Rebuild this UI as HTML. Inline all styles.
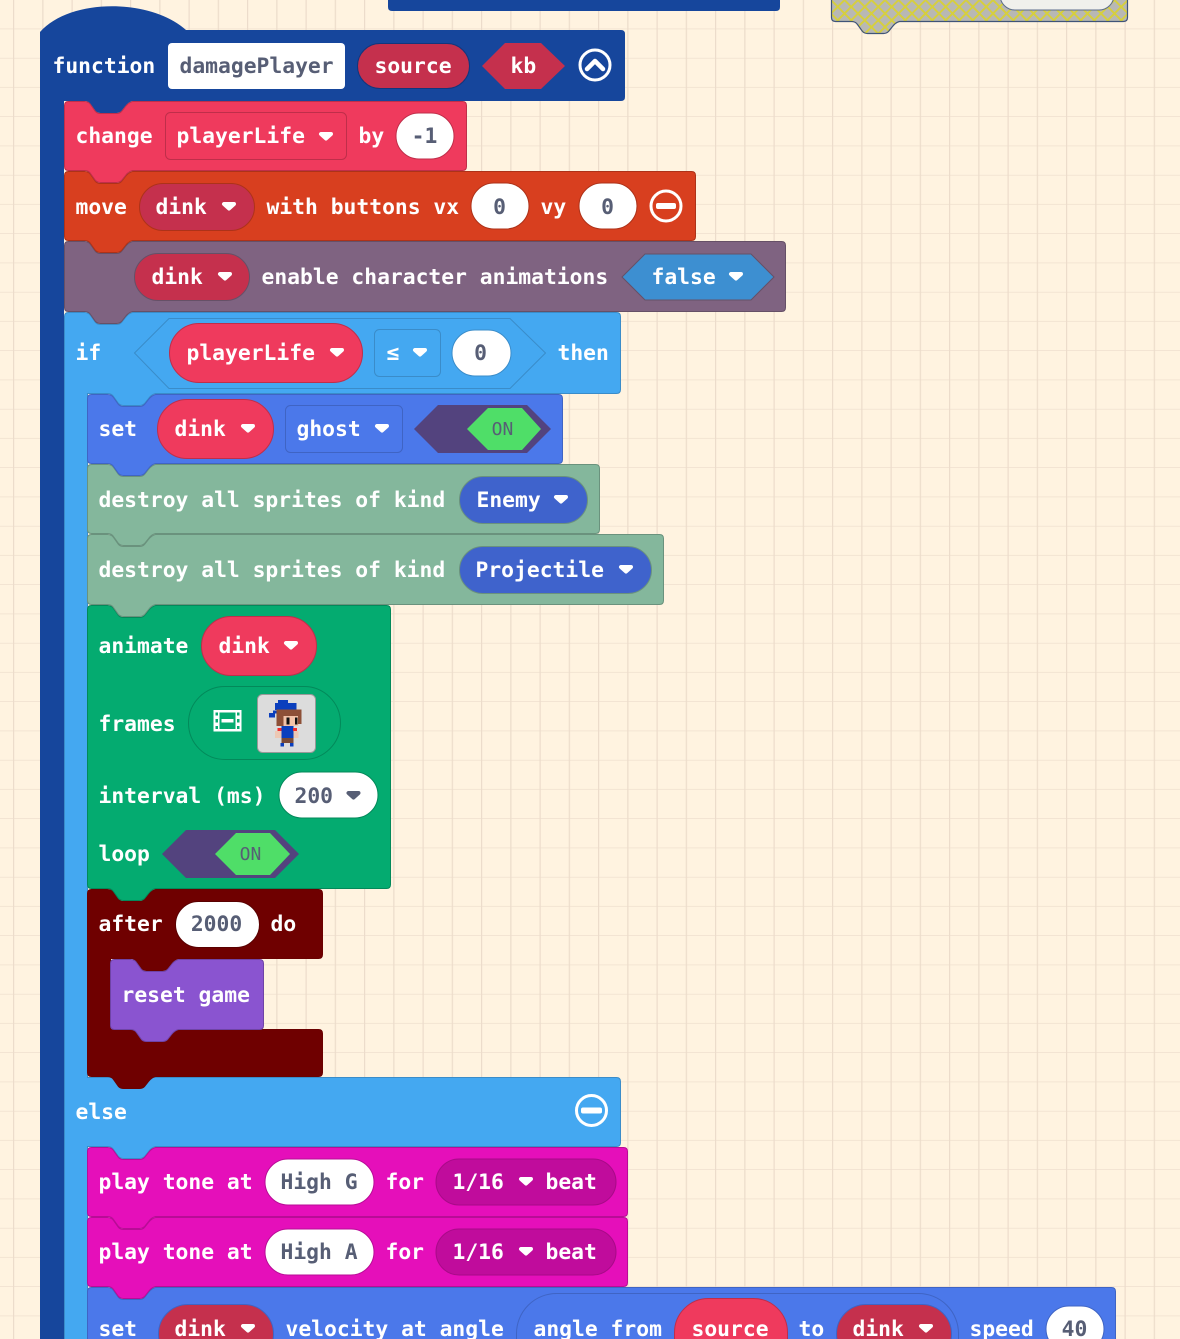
<!DOCTYPE html>
<html><head><meta charset="utf-8"><style>
html,body{margin:0;padding:0;background:#fff3e0}
svg{display:block}
text{font-family:"DejaVu Sans Mono","Liberation Mono",monospace;font-size:21.33px;font-weight:700;fill:#fff;white-space:pre;transform:translateX(-.5px)}
.g{fill:#575e75}
.o{font-size:18px;fill:#575e75;text-anchor:middle;font-weight:400}
.m{text-anchor:middle}
</style></head><body>
<svg width="1180" height="1339" viewBox="0 0 1180 1339" xmlns="http://www.w3.org/2000/svg">
<defs>
<pattern id="grid" width="29.25" height="29.25" patternUnits="userSpaceOnUse" x="13" y="0">
<path d="M.5,0V29.25M0,29.3H29.25" stroke="#ecdccb" stroke-width="1.4" fill="none"/>
</pattern>
<pattern id="hatch" width="13.5" height="13.5" patternUnits="userSpaceOnUse" x="831">
<rect width="13.5" height="13.5" fill="#b8b8b4"/>
<path d="M0,0L13.5,13.5M13.5,0L0,13.5" stroke="#d6cf3d" stroke-width="1.9"/>
</pattern>
<path id="t" d="M-5,-2H5L0,2.5Z" stroke-width="4" stroke-linejoin="round"/>
</defs>
<rect width="1180" height="1339" fill="#fff3e0"/>
<rect width="1180" height="1339" fill="url(#grid)"/>

<!-- top fragments -->
<path d="M388,-5H780V7Q780,11 776,11H392Q388,11 388,7Z" fill="#16469c"/>
<path d="M831.500,-5V17.500q0,4 4,4H851.500q4,0 6,3l5,7q2,2 5,2h16q3,0 5,-2l4,-5q3,-4 7,-5H1123.500q4,0 4,-4V-5Z" fill="url(#hatch)" stroke="#3f5478" stroke-width="1.2"/>
<rect x="1000" y="-30" width="114" height="40" rx="15" fill="#f0f0ec" stroke="#5b6c8c"/>

<!-- function -->
<path d="M40,32C70,-2 150,-2 186,30H621Q625,30 625,34V97Q625,101 621,101H132.500q-4,1 -7,5l-4,5q-2,2 -5,2h-16q-3,0 -5,-2l-5,-7q-2,-3 -6,-3H64V1345H40Z" fill="#16469c"/>

<!-- if / else C block -->
<path d="M64.500,316.500q0,-4 4,-4H84.500q4,0 6,3l5,7q2,2 5,2h16q3,0 5,-2l4,-5q3,-4 7,-5H616.500q4,0 4,4V389.500q0,4 -4,4H155.500q-4,1 -7,5l-4,5q-2,2 -5,2h-16q-3,0 -5,-2l-5,-7q-2,-3 -6,-3H87.500V1077.500H616.500q4,0 4,4V1142.500q0,4 -4,4H155.500q-4,1 -7,5l-4,5q-2,2 -5,2h-16q-3,0 -5,-2l-5,-7q-2,-3 -6,-3H87.500V1345H64.500Z" fill="#44a8f1" stroke="#3a8cc9" stroke-width="1"/>

<!-- set velocity -->
<path d="M87.500,1291.500q0,-4 4,-4H107.500q4,0 6,3l5,7q2,2 5,2h16q3,0 5,-2l4,-5q3,-4 7,-5H1111.500q4,0 4,4V1345H87.500Z" fill="#4b78ea" stroke="#3f64c4"/>
<!-- play 2 -->
<path d="M87.500,1221.500q0,-4 4,-4H107.500q4,0 6,3l5,7q2,2 5,2h16q3,0 5,-2l4,-5q3,-4 7,-5H623.500q4,0 4,4V1282.500q0,4 -4,4H155.500q-4,1 -7,5l-4,5q-2,2 -5,2h-16q-3,0 -5,-2l-5,-7q-2,-3 -6,-3H91.500q-4,0 -4,-4Z" fill="#e50fba" stroke="#b80c96"/>
<!-- play 1 -->
<path d="M87.500,1151.500q0,-4 4,-4H107.500q4,0 6,3l5,7q2,2 5,2h16q3,0 5,-2l4,-5q3,-4 7,-5H623.500q4,0 4,4V1212.500q0,4 -4,4H155.500q-4,1 -7,5l-4,5q-2,2 -5,2h-16q-3,0 -5,-2l-5,-7q-2,-3 -6,-3H91.500q-4,0 -4,-4Z" fill="#e50fba" stroke="#b80c96"/>
<!-- after -->
<path d="M87.500,893.500q0,-4 4,-4H107.500q4,0 6,3l5,7q2,2 5,2h16q3,0 5,-2l4,-5q3,-4 7,-5H318.500q4,0 4,4V954.500q0,4 -4,4H178.500q-4,1 -7,5l-4,5q-2,2 -5,2h-16q-3,0 -5,-2l-5,-7q-2,-3 -6,-3H110.500V1029.500H318.500q4,0 4,4V1072.500q0,4 -4,4H155.500q-4,1 -7,5l-4,5q-2,2 -5,2h-16q-3,0 -5,-2l-5,-7q-2,-3 -6,-3H91.500q-4,0 -4,-4Z" fill="#6f0000" stroke="#6a0000"/>
<!-- reset -->
<path d="M110.500,963.500q0,-4 4,-4H130.500q4,0 6,3l5,7q2,2 5,2h16q3,0 5,-2l4,-5q3,-4 7,-5H259.500q4,0 4,4V1025.500q0,4 -4,4H178.500q-4,1 -7,5l-4,5q-2,2 -5,2h-16q-3,0 -5,-2l-5,-7q-2,-3 -6,-3H114.500q-4,0 -4,-4Z" fill="#8a54d0" stroke="#6f43a6"/>
<!-- animate -->
<path d="M87.500,609.500q0,-4 4,-4H107.500q4,0 6,3l5,7q2,2 5,2h16q3,0 5,-2l4,-5q3,-4 7,-5H386.500q4,0 4,4V884.500q0,4 -4,4H155.500q-4,1 -7,5l-4,5q-2,2 -5,2h-16q-3,0 -5,-2l-5,-7q-2,-3 -6,-3H91.500q-4,0 -4,-4Z" fill="#04ab70" stroke="#03895a"/>
<!-- destroy 2 -->
<path d="M87.500,538.500q0,-4 4,-4H107.500q4,0 6,3l5,7q2,2 5,2h16q3,0 5,-2l4,-5q3,-4 7,-5H659.500q4,0 4,4V600.500q0,4 -4,4H155.500q-4,1 -7,5l-4,5q-2,2 -5,2h-16q-3,0 -5,-2l-5,-7q-2,-3 -6,-3H91.500q-4,0 -4,-4Z" fill="#84b79c" stroke="#6a927d"/>
<!-- destroy 1 -->
<path d="M87.500,468.500q0,-4 4,-4H107.500q4,0 6,3l5,7q2,2 5,2h16q3,0 5,-2l4,-5q3,-4 7,-5H595.500q4,0 4,4V529.500q0,4 -4,4H155.500q-4,1 -7,5l-4,5q-2,2 -5,2h-16q-3,0 -5,-2l-5,-7q-2,-3 -6,-3H91.500q-4,0 -4,-4Z" fill="#84b79c" stroke="#6a927d"/>
<!-- set ghost -->
<path d="M87.500,398.500q0,-4 4,-4H107.500q4,0 6,3l5,7q2,2 5,2h16q3,0 5,-2l4,-5q3,-4 7,-5H558.500q4,0 4,4V459.500q0,4 -4,4H155.500q-4,1 -7,5l-4,5q-2,2 -5,2h-16q-3,0 -5,-2l-5,-7q-2,-3 -6,-3H91.500q-4,0 -4,-4Z" fill="#4b78ea" stroke="#3f64c4"/>
<!-- animations -->
<path d="M64.500,245.500q0,-4 4,-4H84.500q4,0 6,3l5,7q2,2 5,2h16q3,0 5,-2l4,-5q3,-4 7,-5H781.500q4,0 4,4V307.500q0,4 -4,4H132.500q-4,1 -7,5l-4,5q-2,2 -5,2h-16q-3,0 -5,-2l-5,-7q-2,-3 -6,-3H68.500q-4,0 -4,-4Z" fill="#7f6381" stroke="#665067"/>
<!-- move -->
<path d="M64.500,175.500q0,-4 4,-4H84.500q4,0 6,3l5,7q2,2 5,2h16q3,0 5,-2l4,-5q3,-4 7,-5H691.500q4,0 4,4V236.500q0,4 -4,4H132.500q-4,1 -7,5l-4,5q-2,2 -5,2h-16q-3,0 -5,-2l-5,-7q-2,-3 -6,-3H68.500q-4,0 -4,-4Z" fill="#d83f1f" stroke="#ad3219"/>
<!-- change -->
<path d="M64.500,105.500q0,-4 4,-4H84.500q4,0 6,3l5,7q2,2 5,2h16q3,0 5,-2l4,-5q3,-4 7,-5H462.500q4,0 4,4V166.500q0,4 -4,4H132.500q-4,1 -7,5l-4,5q-2,2 -5,2h-16q-3,0 -5,-2l-5,-7q-2,-3 -6,-3H68.500q-4,0 -4,-4Z" fill="#ef3a5d" stroke="#bf2e4a"/>

<!-- function row -->
<text x="53" y="73">function</text>
<rect x="168" y="43" width="177" height="46" rx="4" fill="#fff"/>
<text x="180" y="73" class="g">damagePlayer</text>
<rect x="357.500" y="43.500" width="112" height="45" rx="22.500" fill="#c5304d" stroke="#12367c"/>
<text x="375" y="73">source</text>
<polygon points="482,66 505,43 541,43 565,66 541,89 505,89" fill="#c5304d"/>
<text x="511" y="73">kb</text>
<circle cx="595" cy="65" r="15" fill="none" stroke="#fff" stroke-width="3"/>
<path d="M587,69L595,61L603,69" fill="none" stroke="#fff" stroke-width="4.500" stroke-linecap="round" stroke-linejoin="round"/>

<!-- change row -->
<text x="76" y="143">change</text>
<rect x="165.500" y="112.500" width="181" height="47" rx="5" fill="#ef3a5d" stroke="#bf2e4a"/>
<text x="177" y="143">playerLife</text>
<use href="#t" x="326" y="136" fill="#fff" stroke="#fff"/>
<text x="359" y="143">by</text>
<rect x="396" y="113" width="58" height="46" rx="23" fill="#fff" stroke="#bf2e4a"/>
<text x="425" y="143" class="g m">-1</text>

<!-- move row -->
<text x="76" y="214">move</text>
<rect x="139.500" y="183.500" width="115" height="47" rx="23.500" fill="#c5304d" stroke="#ad3219"/>
<text x="156" y="214">dink</text>
<use href="#t" x="229" y="206" fill="#fff" stroke="#fff"/>
<text x="267" y="214">with buttons vx</text>
<rect x="471" y="183" width="58" height="46" rx="23" fill="#fff" stroke="#ad3219"/>
<text x="500" y="214" class="g m">0</text>
<text x="541" y="214">vy</text>
<rect x="579" y="183" width="58" height="46" rx="23" fill="#fff" stroke="#ad3219"/>
<text x="608" y="214" class="g m">0</text>
<circle cx="666" cy="206" r="15" fill="none" stroke="#fff" stroke-width="3"/>
<rect x="656" y="203" width="20" height="6" rx="2" fill="#fff"/>

<!-- animations row -->
<rect x="134.500" y="253.500" width="115" height="47" rx="23.500" fill="#c5304d" stroke="#665067"/>
<text x="152" y="284">dink</text>
<use href="#t" x="225" y="276" fill="#fff" stroke="#fff"/>
<text x="262" y="284">enable character animations</text>
<polygon points="622,277 645,254 751,254 774,277 751,300 645,300" fill="#3d8fd1" stroke="#665067"/>
<text x="652" y="284">false</text>
<use href="#t" x="736" y="276" fill="#fff" stroke="#fff"/>

<!-- if row -->
<text x="76" y="360">if</text>
<polygon points="134.500,353 169,318.500 510,318.500 545.500,353 510,388.500 169,388.500" fill="#44a8f1" stroke="#3a8cc9"/>
<rect x="169.500" y="323.500" width="193" height="59" rx="29.500" fill="#ef3a5d" stroke="#bf2e4a"/>
<text x="187" y="360">playerLife</text>
<use href="#t" x="337" y="352" fill="#fff" stroke="#fff"/>
<rect x="374.500" y="329.500" width="66" height="47" rx="5" fill="#44a8f1" stroke="#3a8cc9"/>
<text x="387" y="360">≤</text>
<use href="#t" x="420" y="352" fill="#fff" stroke="#fff"/>
<rect x="452" y="330" width="59" height="46" rx="23" fill="#fff" stroke="#3a8cc9"/>
<text x="481" y="360" class="g m">0</text>
<text x="558" y="360">then</text>

<!-- set ghost row -->
<text x="99" y="436">set</text>
<rect x="157.500" y="399.500" width="116" height="59" rx="29.500" fill="#ef3a5d" stroke="#bf2e4a"/>
<text x="175" y="436">dink</text>
<use href="#t" x="248" y="428" fill="#fff" stroke="#fff"/>
<rect x="285.500" y="405.500" width="117" height="47" rx="5" fill="#4b78ea" stroke="#3f64c4"/>
<text x="297" y="436">ghost</text>
<use href="#t" x="382" y="428" fill="#fff" stroke="#fff"/>
<polygon points="414,429 438,405 527,405 551,429 527,453 438,453" fill="#53437e"/>
<polygon points="467,429 488,408 522,408 541,429 522,450 488,450" fill="#4fde68"/>
<text x="503" y="435" class="o">ON</text>

<!-- destroy rows -->
<text x="99" y="507">destroy all sprites of kind</text>
<rect x="459.500" y="476.500" width="128" height="47" rx="23.500" fill="#3f63cc" stroke="#6a927d"/>
<text x="477" y="507">Enemy</text>
<use href="#t" x="561" y="499" fill="#fff" stroke="#fff"/>
<text x="99" y="577">destroy all sprites of kind</text>
<rect x="459.500" y="546.500" width="192" height="47" rx="23.500" fill="#3f63cc" stroke="#6a927d"/>
<text x="476" y="577">Projectile</text>
<use href="#t" x="626" y="569" fill="#fff" stroke="#fff"/>

<!-- animate rows -->
<text x="99" y="653">animate</text>
<rect x="201.500" y="616.500" width="115" height="59" rx="29.500" fill="#ef3a5d" stroke="#bf2e4a"/>
<text x="219" y="653">dink</text>
<use href="#t" x="291" y="645" fill="#fff" stroke="#fff"/>
<text x="99" y="731">frames</text>
<rect x="188.500" y="686.500" width="152" height="73" rx="36.500" fill="none" stroke="#03895a"/>
<rect x="213.500" y="710" width="28" height="21.500" fill="#fff"/>
<g fill="#04ab70">
<rect x="219.500" y="712.500" width="2" height="16.500" fill="#04ab70"/>
<rect x="233.500" y="712.500" width="2" height="16.500" fill="#04ab70"/>
<rect x="221.500" y="712.500" width="12" height="6.500"/>
<rect x="221.500" y="722.500" width="12" height="6.500"/>
<rect x="215.500" y="712.500" width="2.500" height="3"/><rect x="215.500" y="719" width="2.500" height="3.500"/><rect x="215.500" y="726" width="2.500" height="3"/>
<rect x="237" y="712.500" width="2.500" height="3"/><rect x="237" y="719" width="2.500" height="3.500"/><rect x="237" y="726" width="2.500" height="3"/>
</g>
<rect x="257.500" y="694.500" width="58" height="58" rx="5" fill="#dcdcdc" stroke="#999"/>
<g>
<rect x="278" y="700" width="10" height="3.500" fill="#0b3fbd"/>
<rect x="275" y="703" width="21.500" height="7" fill="#0b3fbd"/>
<rect x="269" y="713" width="6" height="4.500" fill="#0b3fbd"/>
<rect x="273" y="710.500" width="5" height="3" fill="#0b3fbd"/>
<rect x="276.500" y="709.500" width="25" height="7" fill="#8d5037"/>
<rect x="276.500" y="716" width="8.500" height="10" fill="#8d5037"/>
<rect x="283.500" y="716" width="15" height="10" fill="#f2c3a8"/>
<rect x="298" y="713" width="3.500" height="11" fill="#8d5037"/>
<rect x="286.500" y="717.500" width="3" height="7" fill="#111"/>
<rect x="295" y="717.500" width="2.500" height="7" fill="#111"/>
<rect x="275" y="731" width="6.500" height="7" fill="#edc8b4"/>
<rect x="293" y="731" width="5.500" height="7" fill="#edc8b4"/>
<rect x="281.500" y="726" width="12" height="12" fill="#0b3fbd"/>
<rect x="277.500" y="728" width="4" height="3" fill="#f22c2c"/>
<rect x="293" y="728" width="4" height="3" fill="#f22c2c"/>
<rect x="281.500" y="738" width="12" height="5" fill="#7a4a36"/>
<rect x="280.500" y="743" width="3.500" height="3.500" fill="#0b3fbd"/>
<rect x="290" y="743" width="3.500" height="3.500" fill="#0b3fbd"/>
</g>
<text x="99" y="803">interval (ms)</text>
<rect x="279" y="772" width="99" height="46" rx="23" fill="#fff" stroke="#03895a"/>
<text x="295" y="803" class="g">200</text>
<use href="#t" x="353.500" y="795" fill="#575e75" stroke="#575e75"/>
<text x="99" y="861">loop</text>
<polygon points="162,854 186,830 275,830 299,854 275,878 186,878" fill="#53437e"/>
<polygon points="215,854 236,833 270,833 290,854 270,875 236,875" fill="#4fde68"/>
<text x="251" y="860" class="o">ON</text>

<!-- after rows -->
<text x="99" y="931">after</text>
<rect x="175.500" y="901.500" width="84" height="46" rx="23" fill="#fff" stroke="#590000"/>
<text x="217" y="931" class="g m">2000</text>
<text x="271" y="931">do</text>
<text x="122" y="1002">reset game</text>

<!-- else -->
<text x="76" y="1119">else</text>
<circle cx="591.500" cy="1110.500" r="15" fill="none" stroke="#fff" stroke-width="3"/>
<rect x="581" y="1107.500" width="21" height="6" rx="2" fill="#fff"/>

<!-- play rows -->
<text x="99" y="1189">play tone at</text>
<rect x="265" y="1159" width="109" height="46" rx="23" fill="#fff" stroke="#b80c96"/>
<text x="281" y="1189" class="g">High G</text>
<text x="386" y="1189">for</text>
<rect x="436" y="1159" width="180" height="46" rx="23" fill="#c00c9c" stroke="#a80a88"/>
<text x="453" y="1189">1/16</text>
<use href="#t" x="526" y="1181" fill="#fff" stroke="#fff"/>
<text x="546" y="1189">beat</text>

<text x="99" y="1259">play tone at</text>
<rect x="265" y="1229" width="109" height="46" rx="23" fill="#fff" stroke="#b80c96"/>
<text x="281" y="1259" class="g">High A</text>
<text x="386" y="1259">for</text>
<rect x="436" y="1229" width="180" height="46" rx="23" fill="#c00c9c" stroke="#a80a88"/>
<text x="453" y="1259">1/16</text>
<use href="#t" x="526" y="1251" fill="#fff" stroke="#fff"/>
<text x="546" y="1259">beat</text>

<!-- velocity row -->
<text x="99" y="1336">set</text>
<rect x="158.500" y="1304.500" width="115" height="59" rx="29.500" fill="#c5304d" stroke="#3f64c4"/>
<text x="175" y="1336">dink</text>
<use href="#t" x="248" y="1328" fill="#fff" stroke="#fff"/>
<text x="286" y="1336">velocity at angle</text>
<rect x="516.500" y="1293.500" width="442" height="100" rx="40" fill="none" stroke="#3f64c4"/>
<text x="534" y="1336">angle from</text>
<rect x="674.500" y="1298.500" width="113" height="80" rx="34" fill="#ef3a5d" stroke="#bf2e4a"/>
<text x="692" y="1336">source</text>
<text x="799" y="1336">to</text>
<rect x="836.500" y="1304.500" width="115" height="59" rx="29.500" fill="#c5304d" stroke="#3f64c4"/>
<text x="853" y="1336">dink</text>
<use href="#t" x="926" y="1328" fill="#fff" stroke="#fff"/>
<text x="970" y="1336">speed</text>
<rect x="1046" y="1306" width="58" height="46" rx="23" fill="#fff" stroke="#3f64c4"/>
<text x="1075" y="1336" class="g m">40</text>
</svg>
</body></html>
